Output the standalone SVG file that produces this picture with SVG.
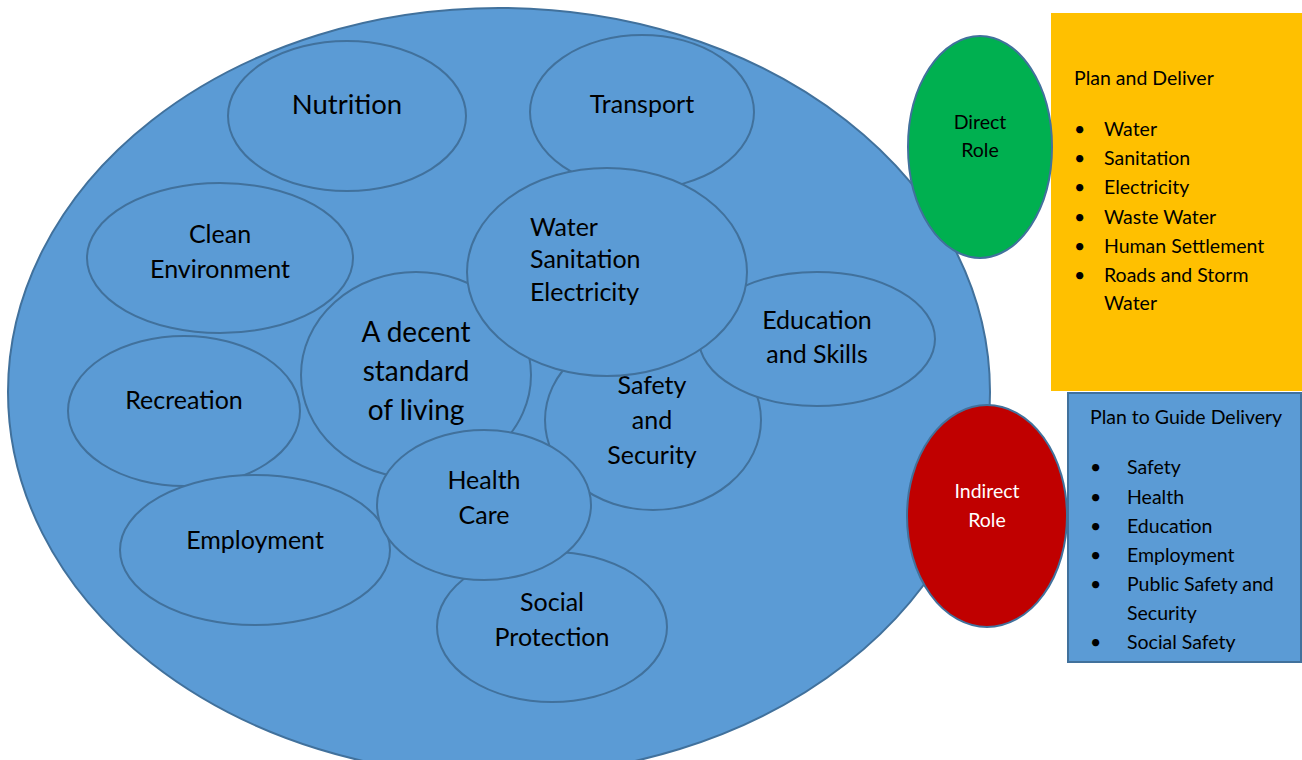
<svg xmlns="http://www.w3.org/2000/svg" width="1302" height="760" viewBox="0 0 1302 760">
<style>
.c{fill:#5B9BD5;stroke:#41719C;stroke-width:2}
text{font-family:Lato,"Liberation Sans",sans-serif;fill:#000}
.t{font-size:25px;text-anchor:middle}
.s{font-size:19.5px}
.m{text-anchor:middle}
.big{font-size:27.5px}
.dec{font-size:28px}
</style>
<rect width="1302" height="760" fill="#fff"/>
<g id="main"><ellipse class="c" cx="499" cy="392" rx="491" ry="384"/></g>
<g id="nutrition"><ellipse class="c" cx="347" cy="116" rx="119" ry="75"/><text class="t big" x="347" y="114">Nutrition</text></g>
<g id="transport"><ellipse class="c" cx="642" cy="112" rx="112" ry="77"/><text class="t" x="642" y="113">Transport</text></g>
<g id="clean"><ellipse class="c" cx="220" cy="258" rx="133" ry="75"/><text class="t" x="220" y="243">Clean</text><text class="t" x="220" y="278">Environment</text></g>
<g id="recreation"><ellipse class="c" cx="184" cy="411" rx="116" ry="75"/><text class="t" x="184" y="409">Recreation</text></g>
<g id="employment"><ellipse class="c" cx="255" cy="550" rx="135" ry="75"/><text class="t" x="255" y="549">Employment</text></g>
<g id="decent"><ellipse class="c" cx="416" cy="375" rx="115" ry="103"/><text class="t dec" x="416" y="342">A decent</text><text class="t dec" x="416" y="381">standard</text><text class="t dec" x="416" y="420">of living</text></g>
<g id="safety"><ellipse class="c" cx="653" cy="420" rx="108" ry="90"/><text class="t" x="652" y="394">Safety</text><text class="t" x="652" y="429">and</text><text class="t" x="652" y="464">Security</text></g>
<g id="education"><ellipse class="c" cx="817" cy="339" rx="118" ry="67"/><text class="t" x="817" y="329">Education</text><text class="t" x="817" y="363">and Skills</text></g>
<g id="social"><ellipse class="c" cx="552" cy="627" rx="115" ry="75"/><text class="t" x="552" y="611">Social</text><text class="t" x="552" y="646">Protection</text></g>
<g id="health"><ellipse class="c" cx="484" cy="505" rx="107" ry="75"/><text class="t" x="484" y="489">Health</text><text class="t" x="484" y="524">Care</text></g>
<g id="water"><ellipse class="c" cx="607" cy="272" rx="140" ry="104"/><text x="530" y="236" font-size="25">Water</text><text x="530" y="268" font-size="25">Sanitation</text><text x="530" y="301" font-size="25">Electricity</text></g>
<g id="plan-deliver"><rect x="1051" y="13" width="251" height="378" fill="#FFC000"/>
<text class="s" x="1074" y="85">Plan and Deliver</text>
<g class="s"><text x="1074" y="136">•</text><text x="1074" y="165">•</text><text x="1074" y="194">•</text><text x="1074" y="224">•</text><text x="1074" y="253">•</text><text x="1074" y="282">•</text></g>
<text class="s" x="1104" y="136">Water</text><text class="s" x="1104" y="165">Sanitation</text><text class="s" x="1104" y="194">Electricity</text><text class="s" x="1104" y="224">Waste Water</text><text class="s" x="1104" y="253">Human Settlement</text><text class="s" x="1104" y="282">Roads and Storm</text><text class="s" x="1104" y="310">Water</text>
</g>
<g id="plan-guide"><rect x="1068" y="393" width="233" height="269" fill="#5B9BD5" stroke="#41719C" stroke-width="2"/>
<text class="s" x="1090" y="424">Plan to Guide Delivery</text>
<g class="s"><text x="1090" y="474">•</text><text x="1090" y="504">•</text><text x="1090" y="533">•</text><text x="1090" y="562">•</text><text x="1090" y="591">•</text><text x="1090" y="649">•</text></g>
<text class="s" x="1127" y="474">Safety</text><text class="s" x="1127" y="504">Health</text><text class="s" x="1127" y="533">Education</text><text class="s" x="1127" y="562">Employment</text><text class="s" x="1127" y="591">Public Safety and</text><text class="s" x="1127" y="620">Security</text><text class="s" x="1127" y="649">Social Safety</text>
</g>
<g id="direct"><ellipse cx="980" cy="147" rx="72" ry="111" fill="#00B050" stroke="#41719C" stroke-width="2"/><text class="s m" x="980" y="129">Direct</text><text class="s m" x="980" y="157">Role</text></g>
<g id="indirect"><ellipse cx="987" cy="516" rx="80" ry="111" fill="#C00000" stroke="#41719C" stroke-width="2"/><text class="s m" x="987" y="498" style="fill:#fff">Indirect</text><text class="s m" x="987" y="527" style="fill:#fff">Role</text></g>
<g id="connectors"/>
</svg>
